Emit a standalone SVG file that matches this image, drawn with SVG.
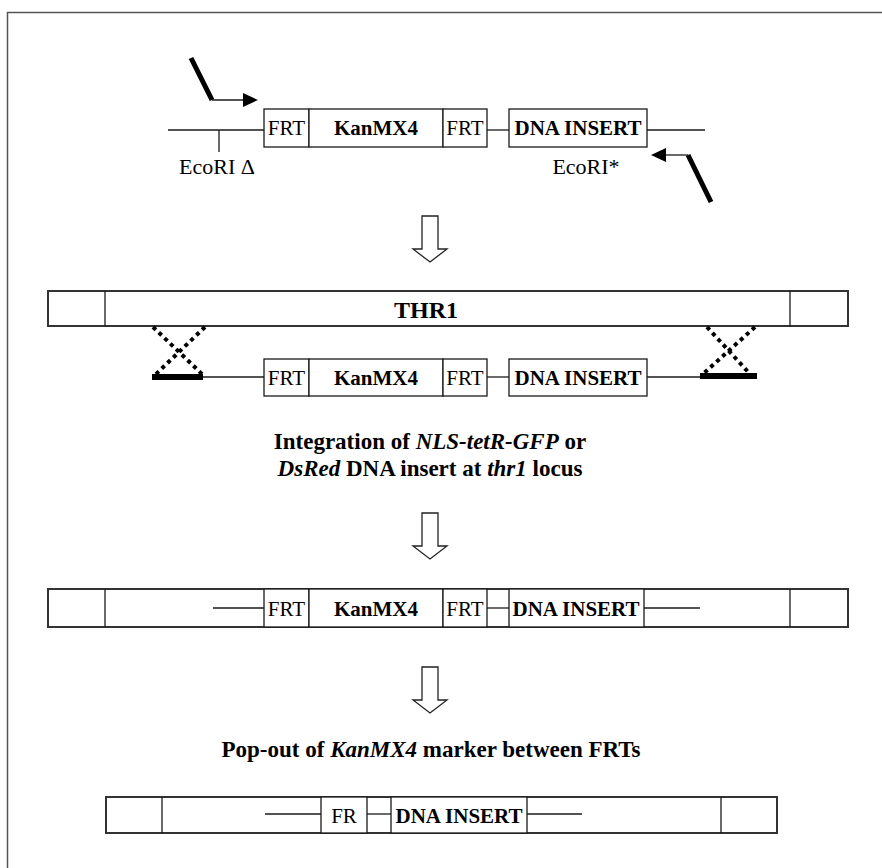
<svg xmlns="http://www.w3.org/2000/svg" width="882" height="868" viewBox="0 0 882 868">
<defs>
<style>
.ln{stroke:#1a1a1a;stroke-width:1.3;fill:none}
.bx{fill:#fff;stroke:#1a1a1a;stroke-width:1.3}
.ob{fill:#fff;stroke:#333;stroke-width:2}
text{font-family:'Liberation Serif','Times New Roman',serif;fill:#000;text-anchor:middle}
.r{font-size:21px}
.lbl{font-size:22px}
.b{font-size:21px;font-weight:bold}
.ttl{font-size:23px;font-weight:bold}
.thick{stroke:#000;stroke-width:5;fill:none}
.bar{stroke:#000;stroke-width:6;fill:none}
.dot{stroke:#000;stroke-width:4;stroke-dasharray:4 4;fill:none}
.blk{fill:#fff;stroke:#222;stroke-width:1.3}
.ah{fill:#000}
</style>
</defs>
<path d="M7.5,868 V12.5 H882" fill="none" stroke="#555" stroke-width="1.5"/>

<g id="construct" font-family="Liberation Serif, serif">
<line class="ln" x1="168" y1="130" x2="264" y2="130"/>
<line class="ln" x1="219" y1="130" x2="219" y2="152"/>
<rect class="bx" x="264" y="109" width="45" height="38"/>
<rect class="bx" x="309" y="109" width="134" height="38"/>
<rect class="bx" x="443" y="109" width="44" height="38"/>
<line class="ln" x1="487" y1="130" x2="509" y2="130"/>
<rect class="bx" x="509" y="109" width="138" height="38"/>
<line class="ln" x1="647" y1="130" x2="705" y2="130"/>
<text class="r" x="286.5" y="135">FRT</text>
<text class="b" x="376" y="135">KanMX4</text>
<text class="r" x="465" y="135">FRT</text>
<text class="b" x="578" y="135">DNA INSERT</text>
<text class="lbl" x="217" y="174">EcoRI Δ</text>
<text class="lbl" x="586" y="174">EcoRI*</text>
</g>

<g id="primer-fwd">
<line class="thick" x1="191" y1="58" x2="212" y2="100"/>
<line class="ln" x1="212" y1="100" x2="245" y2="100"/>
<polygon class="ah" points="258,100 243,93 243,107"/>
</g>
<g id="primer-rev">
<line class="thick" x1="711" y1="202" x2="688" y2="155"/>
<line class="ln" x1="688" y1="155" x2="664" y2="155"/>
<polygon class="ah" points="651,155 666,148 666,162"/>
</g>

<g id="arrow1"><path class="blk" d="M422,216 H438 V249 H447 L430,262 L413,249 H422 Z"/></g>

<g id="thr1" font-family="Liberation Serif, serif">
<rect class="ob" x="48" y="291" width="800" height="35"/>
<line class="ln" x1="105" y1="291" x2="105" y2="326"/>
<line class="ln" x1="790" y1="291" x2="790" y2="326"/>
<text x="426" y="318" style="font-size:24px;font-weight:bold">THR1</text>
</g>

<g id="crossovers">
<line class="dot" x1="153" y1="327" x2="203" y2="375"/>
<line class="dot" x1="205" y1="327" x2="155" y2="375"/>
<line class="dot" x1="707" y1="327" x2="750" y2="374"/>
<line class="dot" x1="755" y1="327" x2="703" y2="374"/>
</g>

<g id="insert-cassette" font-family="Liberation Serif, serif">
<line class="bar" x1="152" y1="377" x2="203" y2="377"/>
<line class="ln" x1="203" y1="377" x2="264" y2="377"/>
<rect class="bx" x="264" y="359" width="45" height="37"/>
<rect class="bx" x="309" y="359" width="134" height="37"/>
<rect class="bx" x="443" y="359" width="44" height="37"/>
<line class="ln" x1="487" y1="377" x2="509" y2="377"/>
<rect class="bx" x="509" y="359" width="138" height="37"/>
<line class="ln" x1="647" y1="377" x2="700" y2="377"/>
<line class="bar" x1="700" y1="376" x2="757" y2="376"/>
<text class="r" x="286.5" y="385">FRT</text>
<text class="b" x="376" y="385">KanMX4</text>
<text class="r" x="465" y="385">FRT</text>
<text class="b" x="578" y="385">DNA INSERT</text>
</g>

<g id="caption1" font-family="Liberation Serif, serif">
<text class="ttl" x="430" y="449">Integration of <tspan font-style="italic">NLS-tetR-GFP</tspan> or</text>
<text class="ttl" x="430" y="476"><tspan font-style="italic">DsRed</tspan> DNA insert at <tspan font-style="italic">thr1</tspan> locus</text>
</g>

<g id="arrow2"><path class="blk" d="M422,513 H438 V546 H447 L430,559 L413,546 H422 Z"/></g>

<g id="integrated" font-family="Liberation Serif, serif">
<rect class="ob" x="48" y="589" width="800" height="38"/>
<line class="ln" x1="105" y1="589" x2="105" y2="627"/>
<line class="ln" x1="790" y1="589" x2="790" y2="627"/>
<line class="ln" x1="213" y1="608" x2="264" y2="608"/>
<rect class="bx" x="264" y="589" width="45" height="38"/>
<rect class="bx" x="309" y="589" width="134" height="38"/>
<rect class="bx" x="443" y="589" width="44" height="38"/>
<line class="ln" x1="487" y1="608" x2="509" y2="608"/>
<rect class="bx" x="509" y="589" width="135" height="38"/>
<line class="ln" x1="644" y1="608" x2="700" y2="608"/>
<text class="r" x="286.5" y="616">FRT</text>
<text class="b" x="376" y="616">KanMX4</text>
<text class="r" x="465" y="616">FRT</text>
<text class="b" x="576" y="616">DNA INSERT</text>
</g>

<g id="arrow3"><path class="blk" d="M422,667 H438 V700 H447 L430,713 L413,700 H422 Z"/></g>

<g id="caption2" font-family="Liberation Serif, serif">
<text class="ttl" x="431" y="757">Pop-out of <tspan font-style="italic">KanMX4</tspan> marker between FRTs</text>
</g>

<g id="popped" font-family="Liberation Serif, serif">
<rect class="ob" x="106" y="797" width="671" height="36"/>
<line class="ln" x1="162" y1="797" x2="162" y2="833"/>
<line class="ln" x1="721" y1="797" x2="721" y2="833"/>
<line class="ln" x1="265" y1="814" x2="321" y2="814"/>
<rect class="bx" x="321" y="797" width="46" height="36"/>
<line class="ln" x1="367" y1="814" x2="391" y2="814"/>
<rect class="bx" x="391" y="797" width="136" height="36"/>
<line class="ln" x1="527" y1="814" x2="582" y2="814"/>
<text class="r" x="344" y="823">FR</text>
<text class="b" x="459" y="823">DNA INSERT</text>
</g>
</svg>
